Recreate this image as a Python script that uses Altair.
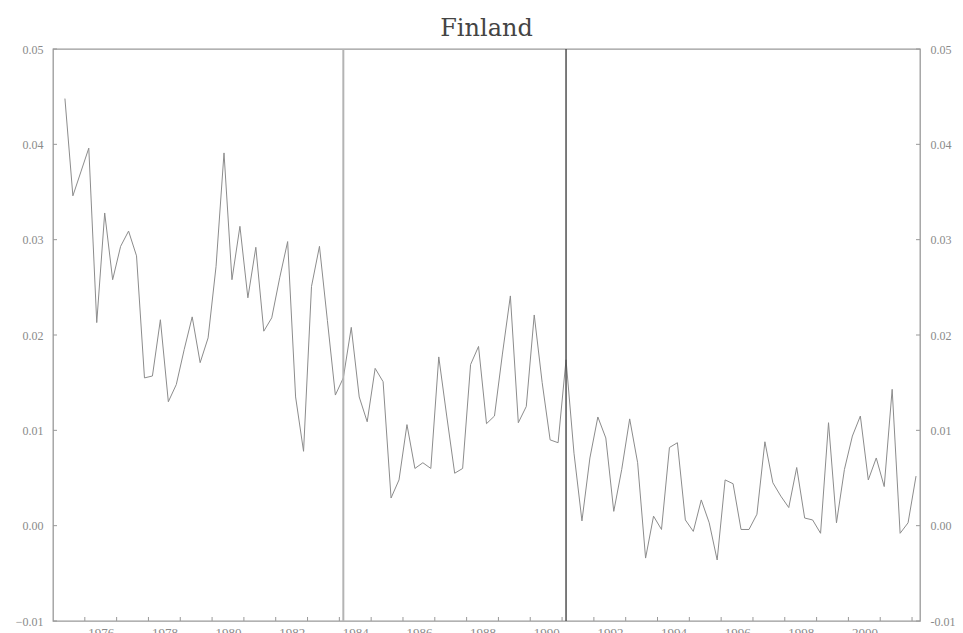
import altair as alt
import pandas as pd

# Quarterly series, Finland
growth_1975_1983 = [
    0.0448, 0.0346, 0.0371, 0.0396, 0.0213, 0.0328, 0.0258, 0.0293, 0.0309,
    0.0283, 0.0155, 0.0157, 0.0216, 0.0130, 0.0148, 0.0185, 0.0219, 0.0171,
    0.0197, 0.0272, 0.0391, 0.0258, 0.0314, 0.0239, 0.0292, 0.0204, 0.0218,
    0.0260, 0.0298, 0.0135, 0.0078, 0.0251, 0.0293, 0.0215, 0.0137,
]
growth_1984_1990 = [
    0.0155, 0.0208, 0.0135, 0.0109, 0.0165, 0.0151, 0.0029, 0.0048, 0.0106,
    0.0060, 0.0066, 0.0060, 0.0177, 0.0115, 0.0055, 0.0060, 0.0169, 0.0188,
    0.0107, 0.0115, 0.0180, 0.0241, 0.0108, 0.0125, 0.0221, 0.0150, 0.0090,
    0.0087,
]
growth_1991_2002 = [
    0.0174, 0.0076, 0.0005, 0.0071, 0.0114, 0.0092, 0.0015, 0.0059, 0.0112,
    0.0066, -0.0034, 0.0010, -0.0004, 0.0082, 0.0087, 0.0006, -0.0006, 0.0027,
    0.0003, -0.0036, 0.0048, 0.0044, -0.0004, -0.0004, 0.0012, 0.0088, 0.0045,
    0.0031, 0.0019, 0.0061, 0.0008, 0.0006, -0.0008, 0.0108, 0.0003, 0.0059,
    0.0094, 0.0115, 0.0048, 0.0071, 0.0041, 0.0143, -0.0008, 0.0003, 0.0052,
]
first_quarter = 1975.375          # 1975 Q2 (mid-quarter position)
break_dates = [1984.125, 1991.125]
y_ticks = [-0.01, 0.0, 0.01, 0.02, 0.03, 0.04, 0.05]
x_tick_years = list(range(1976, 2003))
x_label_years = list(range(1976, 2001, 2))

values = growth_1975_1983 + growth_1984_1990 + growth_1991_2002
df = pd.DataFrame({"t": [first_quarter + 0.25 * i for i in range(len(values))],
                   "v": values})
df_yt = pd.DataFrame({"v": y_ticks})
df_xt = pd.DataFrame({"t": x_tick_years})
df_b1 = pd.DataFrame({"t": break_dates[:1]})
df_b2 = pd.DataFrame({"t": break_dates[1:]})

W, H = 867, 572
TFONT = "DejaVu Serif"
FONT = "Liberation Serif"
AX = "#999999"
LAB = "#8a8a8a"

xs = alt.Scale(domain=[1975.0, 2002.25], nice=False, zero=False)
ys = alt.Scale(domain=[-0.01, 0.05], nice=False, zero=False)

x_axis = alt.Axis(values=x_label_years, format="d", labelOffset=16, ticks=False,
                  domain=False, grid=False, labelPadding=5, title=None,
                  labelFont=FONT, labelFontSize=13, labelColor=LAB,
                  labelBaseline="top")
yl_axis = alt.Axis(orient="left", values=y_ticks, format=".2f", ticks=False,
                   domain=False, grid=False, title=None, labelPadding=10,
                   labelFont=FONT, labelFontSize=12, labelColor=LAB)
yr_axis = alt.Axis(orient="right", values=y_ticks, ticks=False,
                   labelExpr="replace(format(datum.value, '.2f'), '\u2212', '-')",
                   domain=False, grid=False, title=None, labelPadding=10,
                   labelFont=FONT, labelFontSize=12, labelColor=LAB)

X = alt.X("t:Q", scale=xs, axis=x_axis)

line = alt.Chart(df).mark_line(color="#8c8c8c", strokeWidth=1).encode(
    x=X,
    y=alt.Y("v:Q", scale=ys, axis=yl_axis),
)
yt_left = alt.Chart(df_yt).mark_rule(color=AX, strokeWidth=1).encode(
    y=alt.Y("v:Q", scale=ys, axis=None), x=alt.value(0), x2=alt.value(4))
yt_right = alt.Chart(df_yt).mark_rule(color=AX, strokeWidth=1).encode(
    y=alt.Y("v:Q", scale=ys, axis=yr_axis), x=alt.value(W - 4), x2=alt.value(W))
xt = alt.Chart(df_xt).mark_rule(color=AX, strokeWidth=1).encode(
    x=X, y=alt.value(H - 4), y2=alt.value(H))
b1 = alt.Chart(df_b1).mark_rule(color="#b4b4b4", strokeWidth=2).encode(x=X)
b2 = alt.Chart(df_b2).mark_rule(color="#444444", strokeWidth=1.4).encode(x=X)

chart = alt.layer(line, b1, b2, yt_left, yt_right, xt).resolve_axis(
    y="independent"
).properties(
    width=W, height=H,
    title=alt.TitleParams("Finland", font=TFONT, fontSize=24, fontWeight="normal",
                          color="#444444", anchor="middle", offset=2),
    padding={"left": 45, "top": 41, "right": 35, "bottom": 12},
    autosize=alt.AutoSizeParams(type="none"),
).configure_view(stroke=AX, strokeWidth=1.3)

chart.save("out.html", embed_options={"renderer": "svg", "actions": False})
